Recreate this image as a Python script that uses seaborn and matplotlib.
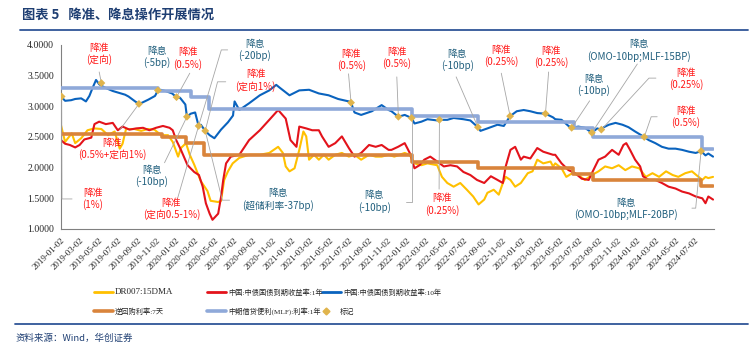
"""
降准、降息操作开展情况 (2019-01 ~ 2024-08)
"""
import numpy  as np
import pandas as pd
import matplotlib.pyplot as plt
import seaborn           as sns

from matplotlib.lines  import Line2D
from matplotlib.ticker import FormatStrFormatter

# ================================================================================
# Data
# ================================================================================
# 中国:中债国债到期收益率:10年
y10_dates = ["2019-01-02", "2019-01-15", "2019-02-03", "2019-02-16", "2019-03-07", "2019-03-22", "2019-04-02", "2019-04-12", "2019-04-23", "2019-05-03",
             "2019-05-19", "2019-06-15", "2019-07-24", "2019-08-04", "2019-08-25", "2019-09-06", "2019-09-16", "2019-10-06", "2019-10-27", "2019-11-05",
             "2019-11-13", "2019-11-29", "2019-12-20", "2020-01-03", "2020-01-14", "2020-01-31", "2020-02-05", "2020-02-17", "2020-03-02", "2020-03-13",
             "2020-03-20", "2020-04-03", "2020-04-17", "2020-05-02", "2020-05-23", "2020-06-14", "2020-06-30", "2020-07-05", "2020-07-20", "2020-08-20",
             "2020-09-23", "2020-10-23", "2020-11-14", "2020-11-26", "2020-12-26", "2021-01-26", "2021-02-26", "2021-03-29", "2021-04-29", "2021-05-29",
             "2021-07-02", "2021-07-09", "2021-07-20", "2021-08-10", "2021-09-13", "2021-10-14", "2021-11-05", "2021-11-14", "2021-12-06", "2021-12-26",
             "2022-01-17", "2022-01-26", "2022-02-17", "2022-03-08", "2022-04-08", "2022-04-15", "2022-05-10", "2022-05-30", "2022-06-30", "2022-07-22",
             "2022-08-15", "2022-08-23", "2022-09-14", "2022-10-16", "2022-11-05", "2022-11-25", "2022-12-16", "2023-01-07", "2023-01-28", "2023-02-19",
             "2023-03-17", "2023-04-10", "2023-04-17", "2023-05-07", "2023-05-29", "2023-06-08", "2023-06-29", "2023-07-20", "2023-08-11", "2023-08-28",
             "2023-09-10", "2023-09-18", "2023-10-04", "2023-10-25", "2023-11-16", "2023-12-05", "2023-12-26", "2024-01-24", "2024-02-07", "2024-02-28",
             "2024-03-20", "2024-04-10", "2024-05-02", "2024-05-23", "2024-06-14", "2024-07-05", "2024-07-22", "2024-08-05", "2024-08-14", "2024-08-29"]
y10_vals  = [3.16, 3.09, 3.10, 3.12, 3.13, 3.08, 3.17, 3.30, 3.43, 3.36,
             3.31, 3.25, 3.19, 3.16, 3.08, 3.04, 3.06, 3.11, 3.17, 3.26,
             3.27, 3.25, 3.21, 3.15, 3.14, 3.03, 2.83, 2.88, 2.90, 2.68,
             2.70, 2.60, 2.53, 2.48, 2.62, 2.74, 2.85, 3.08, 2.94, 3.05,
             3.18, 3.26, 3.35, 3.30, 3.18, 3.26, 3.27, 3.21, 3.18, 3.12,
             3.08, 3.06, 2.90, 2.86, 2.92, 3.02, 2.94, 2.92, 2.83, 2.86,
             2.81, 2.72, 2.75, 2.79, 2.77, 2.78, 2.78, 2.81, 2.79, 2.77,
             2.66, 2.60, 2.64, 2.70, 2.68, 2.84, 2.92, 2.94, 2.92, 2.89,
             2.88, 2.82, 2.79, 2.78, 2.68, 2.65, 2.67, 2.65, 2.57, 2.64,
             2.62, 2.66, 2.70, 2.73, 2.70, 2.66, 2.59, 2.50, 2.45, 2.40,
             2.34, 2.31, 2.31, 2.29, 2.26, 2.24, 2.27, 2.20, 2.23, 2.18]

# 中国:中债国债到期收益率:1年
y1_dates = ["2019-01-02", "2019-01-15", "2019-01-30", "2019-02-16", "2019-03-02", "2019-03-17", "2019-04-08", "2019-04-18", "2019-05-03", "2019-05-24",
            "2019-06-15", "2019-07-01", "2019-07-16", "2019-08-07", "2019-08-28", "2019-09-19", "2019-10-09", "2019-10-30", "2019-11-21", "2019-12-12",
            "2019-12-22", "2020-01-02", "2020-01-17", "2020-02-07", "2020-02-28", "2020-03-14", "2020-03-26", "2020-04-05", "2020-04-17", "2020-04-26",
            "2020-05-14", "2020-05-23", "2020-05-30", "2020-06-08", "2020-06-23", "2020-07-20", "2020-08-20", "2020-09-23", "2020-10-23", "2020-11-20",
            "2020-12-14", "2020-12-29", "2021-01-17", "2021-01-26", "2021-02-17", "2021-03-08", "2021-03-29", "2021-04-08", "2021-04-29", "2021-05-20",
            "2021-06-10", "2021-07-02", "2021-07-20", "2021-08-10", "2021-09-04", "2021-09-25", "2021-10-14", "2021-11-05", "2021-11-14", "2021-12-05",
            "2021-12-26", "2022-01-11", "2022-01-26", "2022-02-11", "2022-02-26", "2022-03-17", "2022-04-08", "2022-04-29", "2022-05-20", "2022-06-10",
            "2022-06-30", "2022-07-22", "2022-08-12", "2022-09-04", "2022-09-25", "2022-10-16", "2022-11-02", "2022-11-11", "2022-11-26", "2022-12-11",
            "2022-12-29", "2023-01-07", "2023-01-28", "2023-02-19", "2023-03-10", "2023-04-10", "2023-04-17", "2023-05-07", "2023-05-29", "2023-06-19",
            "2023-07-10", "2023-08-01", "2023-08-11", "2023-09-01", "2023-09-22", "2023-10-14", "2023-11-04", "2023-11-19", "2023-11-28", "2023-12-10",
            "2023-12-26", "2024-01-11", "2024-01-20", "2024-02-07", "2024-02-28", "2024-03-20", "2024-04-10", "2024-05-02", "2024-05-23", "2024-06-14",
            "2024-07-05", "2024-07-26", "2024-08-05", "2024-08-14", "2024-08-29"]
y1_vals  = [2.45, 2.39, 2.37, 2.33, 2.37, 2.46, 2.49, 2.71, 2.75, 2.71,
            2.73, 2.61, 2.67, 2.62, 2.64, 2.65, 2.61, 2.65, 2.68, 2.65,
            2.61, 2.45, 2.29, 2.04, 1.93, 1.88, 1.69, 1.42, 1.25, 1.15,
            1.25, 1.52, 1.80, 2.07, 2.18, 2.21, 2.45, 2.61, 2.78, 2.94,
            2.80, 2.45, 2.34, 2.67, 2.64, 2.61, 2.61, 2.51, 2.34, 2.40,
            2.51, 2.32, 2.18, 2.24, 2.37, 2.34, 2.37, 2.29, 2.29, 2.34,
            2.40, 2.24, 1.99, 2.04, 2.13, 2.18, 2.10, 2.02, 2.04, 2.02,
            1.93, 1.88, 1.80, 1.75, 1.86, 1.80, 1.75, 2.02, 2.29, 2.34,
            2.13, 2.18, 2.15, 2.32, 2.26, 2.21, 2.21, 2.07, 1.96, 1.91,
            1.82, 1.80, 1.91, 2.13, 2.18, 2.29, 2.21, 2.37, 2.40, 2.29,
            2.13, 2.02, 1.86, 1.80, 1.80, 1.75, 1.69, 1.66, 1.61, 1.58,
            1.53, 1.50, 1.42, 1.53, 1.48]

# DR007:15DMA
dr_dates = ["2019-01-02", "2019-01-15", "2019-02-05", "2019-02-16", "2019-03-07", "2019-03-27", "2019-04-18", "2019-05-10", "2019-05-31", "2019-06-21",
            "2019-07-07", "2019-07-16", "2019-07-27", "2019-08-23", "2019-09-13", "2019-10-04", "2019-10-25", "2019-11-15", "2019-12-07", "2019-12-22",
            "2020-01-08", "2020-01-17", "2020-02-02", "2020-02-14", "2020-02-28", "2020-03-20", "2020-04-10", "2020-04-20", "2020-05-14", "2020-05-23",
            "2020-06-02", "2020-06-14", "2020-06-29", "2020-07-20", "2020-08-20", "2020-09-23", "2020-10-23", "2020-11-20", "2020-12-05", "2020-12-14",
            "2020-12-26", "2021-01-11", "2021-01-26", "2021-02-08", "2021-02-17", "2021-02-26", "2021-03-14", "2021-03-29", "2021-04-14", "2021-04-29",
            "2021-05-20", "2021-06-10", "2021-07-02", "2021-07-20", "2021-08-10", "2021-09-04", "2021-09-25", "2021-10-14", "2021-11-05", "2021-11-23",
            "2021-12-26", "2022-01-11", "2022-01-26", "2022-02-17", "2022-03-08", "2022-04-08", "2022-04-23", "2022-05-10", "2022-05-30", "2022-06-20",
            "2022-07-11", "2022-07-31", "2022-08-17", "2022-09-04", "2022-09-14", "2022-10-04", "2022-10-20", "2022-11-02", "2022-11-11", "2022-11-26",
            "2022-12-11", "2022-12-29", "2023-01-20", "2023-02-04", "2023-02-19", "2023-03-10", "2023-04-02", "2023-04-10", "2023-04-17", "2023-05-07",
            "2023-05-22", "2023-06-10", "2023-06-29", "2023-07-20", "2023-08-11", "2023-09-01", "2023-09-22", "2023-10-14", "2023-11-04", "2023-11-25",
            "2023-12-16", "2024-01-08", "2024-01-29", "2024-02-19", "2024-03-11", "2024-04-02", "2024-04-23", "2024-05-11", "2024-06-02", "2024-06-23",
            "2024-07-14", "2024-07-26", "2024-08-05", "2024-08-14", "2024-08-29"]
dr_vals  = [2.69, 2.42, 2.56, 2.40, 2.48, 2.61, 2.64, 2.63, 2.53, 2.59,
            2.31, 2.39, 2.63, 2.63, 2.60, 2.63, 2.62, 2.53, 2.53, 2.42,
            2.18, 2.32, 2.40, 2.21, 2.05, 1.78, 1.62, 1.46, 1.44, 1.46,
            1.80, 1.94, 2.07, 2.16, 2.21, 2.21, 2.24, 2.34, 2.24, 2.02,
            1.94, 1.99, 2.29, 2.59, 2.51, 2.13, 2.21, 2.13, 2.21, 2.13,
            2.21, 2.24, 2.18, 2.21, 2.13, 2.21, 2.18, 2.18, 2.21, 2.18,
            2.24, 2.21, 2.07, 2.04, 2.07, 2.04, 1.85, 1.75, 1.69, 1.75,
            1.64, 1.53, 1.40, 1.48, 1.59, 1.64, 1.56, 1.75, 1.85, 1.80,
            1.69, 1.75, 1.91, 1.94, 2.13, 2.07, 2.10, 2.02, 2.07, 1.99,
            1.85, 1.91, 1.88, 1.80, 1.88, 1.94, 2.02, 1.99, 2.04, 1.96,
            2.02, 1.99, 1.85, 1.91, 1.85, 1.94, 1.88, 1.85, 1.91, 1.94,
            1.85, 1.80, 1.85, 1.83, 1.85]

# 逆回购利率:7天 (step changes)
rr_dates = ["2019-01-02", "2019-11-18", "2020-02-03", "2020-03-30", "2022-01-17", "2022-08-15", "2023-06-13", "2023-08-15", "2024-07-22", "2024-08-30"]
rr_vals  = [2.55, 2.50, 2.40, 2.20, 2.10, 2.00, 1.90, 1.80, 1.70, 1.70]

# 中期借贷便利(MLF):利率:1年 (step changes)
mlf_dates = ["2019-01-02", "2019-11-05", "2020-02-17", "2020-04-15", "2022-01-17", "2022-08-15", "2023-06-15", "2023-08-15", "2024-07-25", "2024-08-30"]
mlf_vals  = [3.30, 3.25, 3.15, 2.95, 2.85, 2.75, 2.65, 2.50, 2.30, 2.30]

# 标记 (policy events, sitting on the curves)
mark_dates = ["2019-01-04", "2019-05-10", "2019-09-06", "2019-11-05", "2020-01-03", "2020-02-05", "2020-03-13", "2020-04-03", "2021-07-09", "2021-12-06",
              "2022-01-17", "2022-04-15", "2022-08-15", "2022-11-25", "2023-03-17", "2023-06-08", "2023-08-11", "2023-09-10", "2024-01-24", "2024-07-22"]
mark_vals  = [3.16, 3.38, 3.04, 3.26, 3.15, 2.83, 2.68, 2.60, 3.06, 2.83,
              2.81, 2.78, 2.66, 2.84, 2.88, 2.65, 2.57, 2.62, 2.50, 2.27]

# Event labels: text, kind ("cut" = 降准, "rate" = 降息), label centre (date, value)
label_texts = ["降准\n(1%)", "降准\n(定向)", "降准\n(0.5%+定向1%)", "降息\n(-5bp)", "降准\n(0.5%)",
               "降息\n(-10bp)", "降准\n(定向0.5-1%)", "降息\n(-20bp)", "降准\n(定向1%)", "降息\n(超储利率-37bp)",
               "降准\n(0.5%)", "降准\n(0.5%)", "降息\n(-10bp)", "降准\n(0.25%)", "降息\n(-10bp)",
               "降准\n(0.25%)", "降准\n(0.25%)", "降息\n(-10bp)", "降息\n(OMO-10bp;MLF-15BP)", "降准\n(0.25%)",
               "降准\n(0.5%)", "降息\n(OMO-10bp;MLF-20BP)"]
label_kinds = ["cut", "cut", "cut", "rate", "cut", "rate", "cut", "rate", "cut", "rate",
               "cut", "cut", "rate", "cut", "rate", "cut", "cut", "rate", "rate", "cut",
               "cut", "rate"]
label_dates = ["2019-04-12", "2019-05-03", "2019-06-14", "2019-11-01", "2020-02-08", "2019-10-16", "2019-12-18", "2020-09-07", "2020-09-10", "2020-11-19",
               "2021-07-10", "2021-12-01", "2021-09-21", "2022-04-23", "2022-06-10", "2022-10-28", "2023-04-03", "2023-08-17", "2024-01-08", "2024-06-04",
               "2024-06-04", "2023-11-27"]
label_vals  = [1.49, 3.85, 2.31, 3.80, 3.78, 1.86, 1.33, 3.92, 3.42, 1.48,
               3.76, 3.79, 1.45, 1.40, 3.75, 3.82, 3.81, 3.35, 3.91, 3.44,
               2.83, 1.33]

# Leader lines: points from the label side, then ending on marker #idx
leader_paths = [
    ([("2019-02-06", 1.49), ("2019-01-05", 1.49)], 0),
    ([("2019-05-03", 3.56)], 1),
    ([("2019-07-08", 2.62)], 2),
    ([("2020-02-14", 3.54)], 4),
    ([("2019-11-26", 2.08)], 5),
    ([("2020-06-13", 3.92), ("2020-05-24", 3.92)], 6),
    ([("2020-01-07", 1.51)], 6),
    ([("2020-06-07", 3.40), ("2020-05-12", 3.40)], 7),
    ([("2020-06-19", 1.47), ("2020-05-27", 1.47)], 7),
    ([("2021-07-01", 3.53)], 8),
    ([("2021-12-01", 3.48)], 9),
    ([("2021-12-29", 1.44), ("2022-01-17", 1.44)], 10),
    ([("2022-04-14", 1.65)], 11),
    ([("2022-06-07", 3.48)], 12),
    ([("2022-10-28", 3.54)], 13),
    ([("2023-03-27", 3.56)], 14),
    ([("2023-08-04", 3.09)], 15),
    ([("2024-01-02", 3.69)], 16),
    ([("2024-03-01", 3.46), ("2024-02-08", 3.46)], 17),
    ([("2024-03-05", 2.83), ("2024-02-15", 2.83)], 18),
    ([("2024-06-23", 1.34), ("2024-07-05", 1.34)], 19),
]

# Axis ticks
x_ticks = pd.date_range("2019-01-02", periods=34, freq=pd.DateOffset(months=2))
y_ticks = [1.0, 1.5, 2.0, 2.5, 3.0, 3.5, 4.0]

# ================================================================================
# Styling
# ================================================================================
C_DR, C_1Y, C_10Y = "#FFC000", "#E3131B", "#0A63BE"
C_RR, C_MLF, C_MK = "#D9843B", "#8FA9D9", "#E0B44C"
C_CUT, C_RATE     = "#FF1A1A", "#22607E"
NAVY              = "#1F3F73"
GREY              = "#A6A6A6"

sns.set_style("white")
plt.rcParams["font.family"] = ["Liberation Serif", "Noto Sans CJK SC"]
CJK = ["Noto Sans CJK SC", "DejaVu Sans"]

W, H = 750, 352
fx = lambda x: x / W          # pixel -> figure fraction (layout only)
fy = lambda y: 1 - y / H

fig = plt.figure(figsize=(W / 100, H / 100), dpi=100)
ax  = fig.add_axes([fx(61), fy(229), fx(714) - fx(61), fy(45) - fy(229)])

# ================================================================================
# Plot
# ================================================================================
to_df = lambda d, v: pd.DataFrame({"date": pd.to_datetime(d), "value": v})

sns.lineplot(data=to_df(dr_dates,  dr_vals),  x="date", y="value", ax=ax, color=C_DR,  lw=1.5, zorder=2)
sns.lineplot(data=to_df(y1_dates,  y1_vals),  x="date", y="value", ax=ax, color=C_1Y,  lw=1.5, zorder=2)
sns.lineplot(data=to_df(y10_dates, y10_vals), x="date", y="value", ax=ax, color=C_10Y, lw=1.5, zorder=2)
sns.lineplot(data=to_df(rr_dates,  rr_vals),  x="date", y="value", ax=ax, color=C_RR,  lw=2.6, zorder=3, drawstyle="steps-post")
sns.lineplot(data=to_df(mlf_dates, mlf_vals), x="date", y="value", ax=ax, color=C_MLF, lw=2.6, zorder=3, drawstyle="steps-post")

marks = to_df(mark_dates, mark_vals)
sns.scatterplot(data=marks, x="date", y="value", ax=ax, marker="D", s=16, color=C_MK, edgecolor="none", zorder=6)

# Leader lines
for pts, idx in leader_paths:
    xs = [pd.Timestamp(d) for d, _ in pts] + [marks["date"][idx]]
    ys = [v for _, v in pts] + [marks["value"][idx]]
    ax.plot(xs, ys, color=GREY, lw=0.6, zorder=5, clip_on=False)

# Event labels
for txt, kind, d, v in zip(label_texts, label_kinds, label_dates, label_vals):
    ax.text(pd.Timestamp(d), v, txt, ha="center", va="center", fontsize=7, linespacing=1.15,
            family=CJK, color=C_CUT if kind == "cut" else C_RATE, zorder=7)

# --------------------------------------------------------------------------------
# Axes
# --------------------------------------------------------------------------------
ax.set_xlim(pd.Timestamp("2019-01-02"), pd.Timestamp("2024-09-01"))
ax.set_ylim(1.0, 4.0)
ax.set_xlabel(""); ax.set_ylabel("")
ax.set_yticks(y_ticks)
ax.yaxis.set_major_formatter(FormatStrFormatter("%.4f"))
ax.set_xticks(x_ticks)
ax.set_xticklabels([d.strftime("%Y-%m-%d") for d in x_ticks], rotation=45, ha="right",
                   rotation_mode="anchor", fontsize=6.5)
ax.tick_params(axis="y", labelsize=7, length=3, width=0.7, color="#808080", pad=2)
ax.tick_params(axis="x", length=4, width=0.7, color="#808080", pad=1.5)
for s in ["top", "right"]: ax.spines[s].set_visible(False)
for s in ["left", "bottom"]:
    ax.spines[s].set_color("#808080"); ax.spines[s].set_linewidth(0.8)

# --------------------------------------------------------------------------------
# Legend (laid out like the reference, two rows)
# --------------------------------------------------------------------------------
legend_labels = ["DR007:15DMA", "中国:中债国债到期收益率:1年", "中国:中债国债到期收益率:10年",
                 "逆回购利率:7天", "中期借贷便利(MLF):利率:1年", "标记"]
legend_colors = [C_DR, C_1Y, C_10Y, C_RR, C_MLF, C_MK]
legend_widths = [2.0, 2.0, 2.0, 2.6, 2.6, None]
legend_slots  = [(94, 292), (207, 292), (322, 292), (94, 311), (207, 311), (326, 311)]

for lab, col, lw, (x0, y0) in zip(legend_labels, legend_colors, legend_widths, legend_slots):
    if lw is None:
        fig.add_artist(Line2D([fx(x0)], [fy(y0)], marker="D", ms=3.5, color=col, lw=0,
                              transform=fig.transFigure))
        tx = x0 + 14
    else:
        fig.add_artist(Line2D([fx(x0), fx(x0 + 19)], [fy(y0)] * 2, color=col, lw=lw,
                              transform=fig.transFigure))
        tx = x0 + 21
    fs = 6.5 if lab.startswith("DR") else 5.2
    fig.text(fx(tx), fy(y0), lab, fontsize=fs, va="center", ha="left",
             family=["Liberation Serif", "Noto Sans CJK SC"])

# --------------------------------------------------------------------------------
# Title, rules & source
# --------------------------------------------------------------------------------
fig.text(fx(22), fy(15), "图表 5   降准、降息操作开展情况", fontsize=9.5, fontweight="bold",
         color=NAVY, family=CJK, va="center", ha="left")
fig.add_artist(Line2D([fx(20), fx(748)], [fy(30)] * 2, color="#2F5597", lw=1.3, transform=fig.transFigure))
fig.add_artist(Line2D([fx(15), fx(748)], [fy(324)] * 2, color="#2F5597", lw=1.3, transform=fig.transFigure))
fig.text(fx(16), fy(338), "资料来源：Wind，华创证券", fontsize=6.8, color=NAVY, style="italic",
         family=CJK, va="center", ha="left")

fig.savefig("out.png", dpi=100)
